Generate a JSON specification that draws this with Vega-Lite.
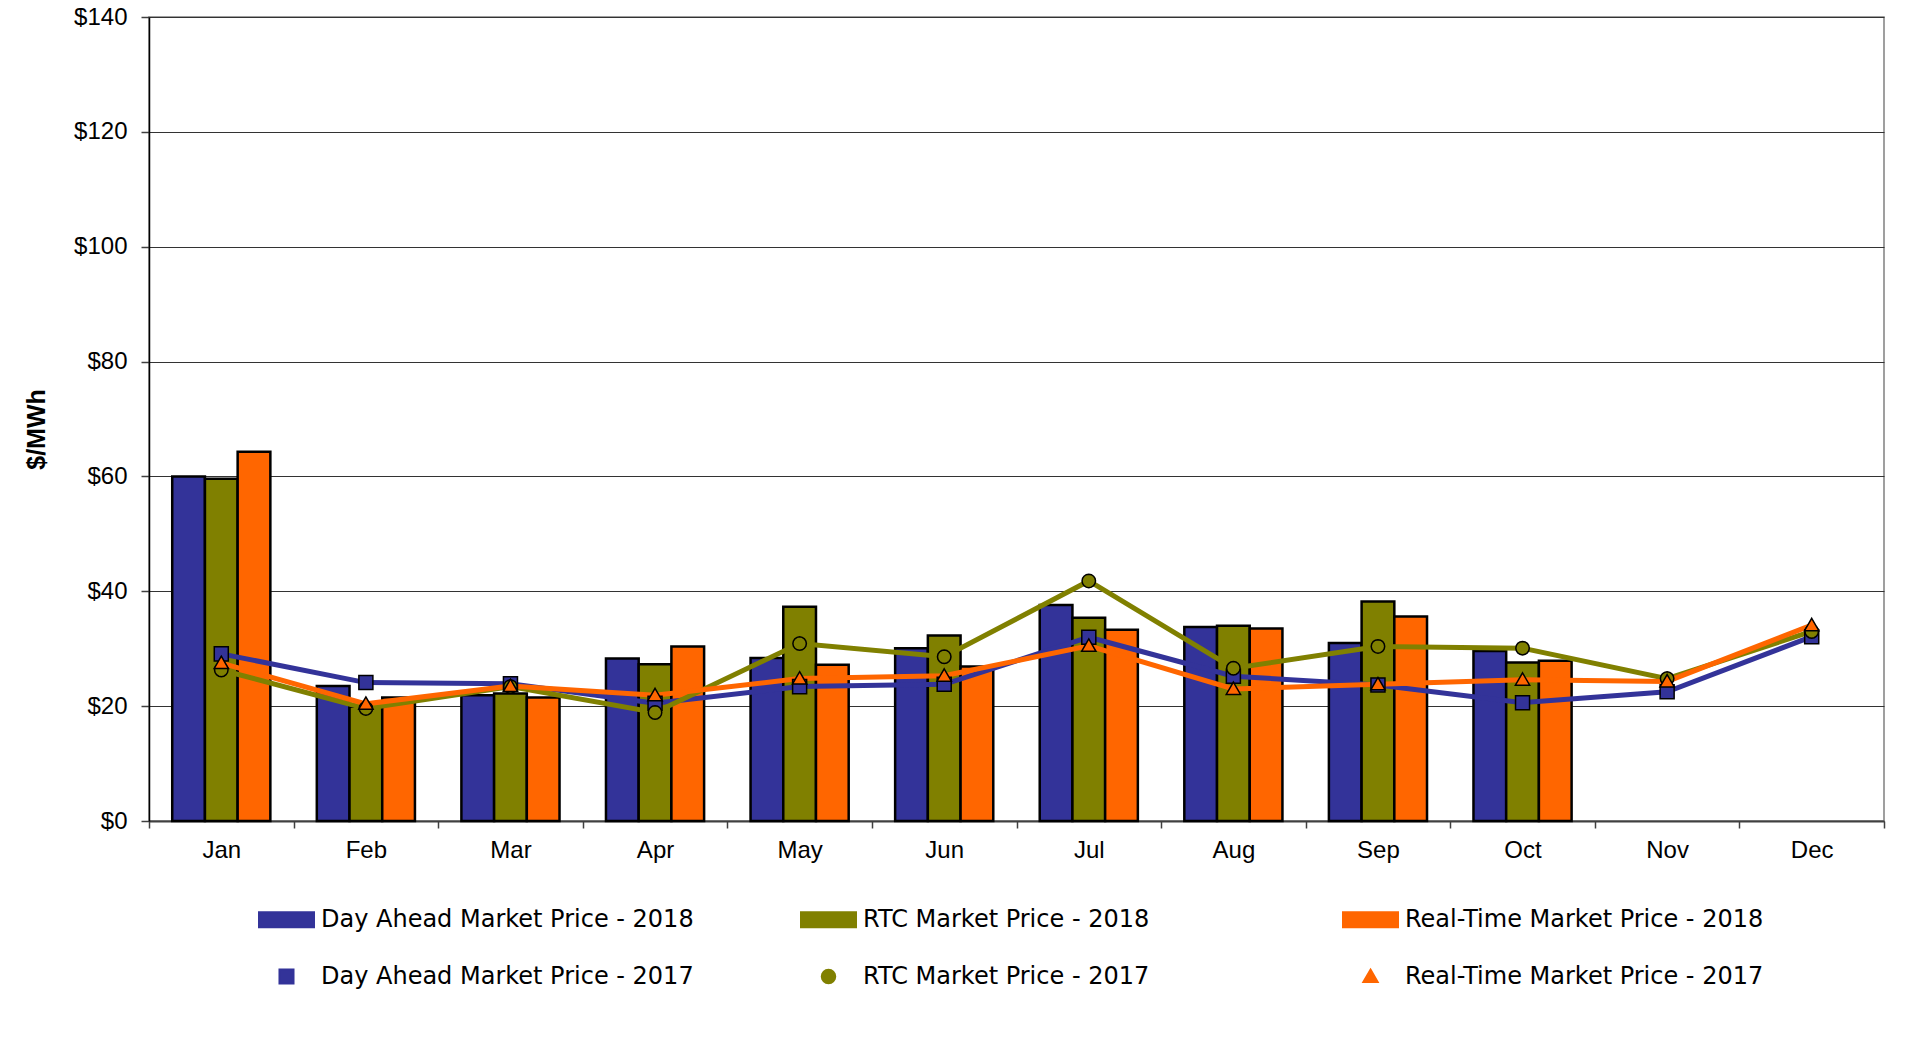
{
  "$schema": "https://vega.github.io/schema/vega-lite/v6.json",
  "autosize": "none",
  "width": 1735,
  "height": 804,
  "padding": {"left": 149, "top": 17, "right": 41, "bottom": 224},
  "background": "white",
  "config": {
    "view": {"stroke": "#808080", "strokeWidth": 1.5},
    "font": "Liberation Sans"
  },
  "datasets": {
    "bars": [
      {"month": "Jan", "series": "Day Ahead Market Price - 2018", "value": 60.0},
      {"month": "Jan", "series": "RTC Market Price - 2018", "value": 59.6},
      {"month": "Jan", "series": "Real-Time Market Price - 2018", "value": 64.3},
      {"month": "Feb", "series": "Day Ahead Market Price - 2018", "value": 23.5},
      {"month": "Feb", "series": "RTC Market Price - 2018", "value": 19.9},
      {"month": "Feb", "series": "Real-Time Market Price - 2018", "value": 21.5},
      {"month": "Mar", "series": "Day Ahead Market Price - 2018", "value": 21.9},
      {"month": "Mar", "series": "RTC Market Price - 2018", "value": 22.2},
      {"month": "Mar", "series": "Real-Time Market Price - 2018", "value": 21.5},
      {"month": "Apr", "series": "Day Ahead Market Price - 2018", "value": 28.3},
      {"month": "Apr", "series": "RTC Market Price - 2018", "value": 27.3},
      {"month": "Apr", "series": "Real-Time Market Price - 2018", "value": 30.4},
      {"month": "May", "series": "Day Ahead Market Price - 2018", "value": 28.4},
      {"month": "May", "series": "RTC Market Price - 2018", "value": 37.3},
      {"month": "May", "series": "Real-Time Market Price - 2018", "value": 27.2},
      {"month": "Jun", "series": "Day Ahead Market Price - 2018", "value": 30.1},
      {"month": "Jun", "series": "RTC Market Price - 2018", "value": 32.3},
      {"month": "Jun", "series": "Real-Time Market Price - 2018", "value": 26.9},
      {"month": "Jul", "series": "Day Ahead Market Price - 2018", "value": 37.6},
      {"month": "Jul", "series": "RTC Market Price - 2018", "value": 35.4},
      {"month": "Jul", "series": "Real-Time Market Price - 2018", "value": 33.3},
      {"month": "Aug", "series": "Day Ahead Market Price - 2018", "value": 33.8},
      {"month": "Aug", "series": "RTC Market Price - 2018", "value": 34.0},
      {"month": "Aug", "series": "Real-Time Market Price - 2018", "value": 33.5},
      {"month": "Sep", "series": "Day Ahead Market Price - 2018", "value": 31.0},
      {"month": "Sep", "series": "RTC Market Price - 2018", "value": 38.2},
      {"month": "Sep", "series": "Real-Time Market Price - 2018", "value": 35.6},
      {"month": "Oct", "series": "Day Ahead Market Price - 2018", "value": 29.6},
      {"month": "Oct", "series": "RTC Market Price - 2018", "value": 27.6},
      {"month": "Oct", "series": "Real-Time Market Price - 2018", "value": 27.9}
    ],
    "lines": [
      {"month": "Jan", "series": "Day Ahead Market Price - 2017", "value": 29.1},
      {"month": "Feb", "series": "Day Ahead Market Price - 2017", "value": 24.1},
      {"month": "Mar", "series": "Day Ahead Market Price - 2017", "value": 23.9},
      {"month": "Apr", "series": "Day Ahead Market Price - 2017", "value": 20.5},
      {"month": "May", "series": "Day Ahead Market Price - 2017", "value": 23.4},
      {"month": "Jun", "series": "Day Ahead Market Price - 2017", "value": 23.8},
      {"month": "Jul", "series": "Day Ahead Market Price - 2017", "value": 32.0},
      {"month": "Aug", "series": "Day Ahead Market Price - 2017", "value": 25.2},
      {"month": "Sep", "series": "Day Ahead Market Price - 2017", "value": 23.7},
      {"month": "Oct", "series": "Day Ahead Market Price - 2017", "value": 20.6},
      {"month": "Nov", "series": "Day Ahead Market Price - 2017", "value": 22.5},
      {"month": "Dec", "series": "Day Ahead Market Price - 2017", "value": 32.1},
      {"month": "Jan", "series": "RTC Market Price - 2017", "value": 26.3},
      {"month": "Feb", "series": "RTC Market Price - 2017", "value": 19.6},
      {"month": "Mar", "series": "RTC Market Price - 2017", "value": 23.4},
      {"month": "Apr", "series": "RTC Market Price - 2017", "value": 18.9},
      {"month": "May", "series": "RTC Market Price - 2017", "value": 30.9},
      {"month": "Jun", "series": "RTC Market Price - 2017", "value": 28.6},
      {"month": "Jul", "series": "RTC Market Price - 2017", "value": 41.8},
      {"month": "Aug", "series": "RTC Market Price - 2017", "value": 26.6},
      {"month": "Sep", "series": "RTC Market Price - 2017", "value": 30.4},
      {"month": "Oct", "series": "RTC Market Price - 2017", "value": 30.1},
      {"month": "Nov", "series": "RTC Market Price - 2017", "value": 24.8},
      {"month": "Dec", "series": "RTC Market Price - 2017", "value": 33.0},
      {"month": "Jan", "series": "Real-Time Market Price - 2017", "value": 27.5},
      {"month": "Feb", "series": "Real-Time Market Price - 2017", "value": 20.4},
      {"month": "Mar", "series": "Real-Time Market Price - 2017", "value": 23.5},
      {"month": "Apr", "series": "Real-Time Market Price - 2017", "value": 21.9},
      {"month": "May", "series": "Real-Time Market Price - 2017", "value": 24.8},
      {"month": "Jun", "series": "Real-Time Market Price - 2017", "value": 25.3},
      {"month": "Jul", "series": "Real-Time Market Price - 2017", "value": 30.5},
      {"month": "Aug", "series": "Real-Time Market Price - 2017", "value": 23.0},
      {"month": "Sep", "series": "Real-Time Market Price - 2017", "value": 23.8},
      {"month": "Oct", "series": "Real-Time Market Price - 2017", "value": 24.6},
      {"month": "Nov", "series": "Real-Time Market Price - 2017", "value": 24.3},
      {"month": "Dec", "series": "Real-Time Market Price - 2017", "value": 34.1}
    ]
  },
  "encoding": {
    "x": {
      "field": "month",
      "type": "ordinal",
      "sort": ["Jan", "Feb", "Mar", "Apr", "May", "Jun", "Jul", "Aug", "Sep", "Oct", "Nov", "Dec"],
      "scale": {"paddingInner": 0, "paddingOuter": 0},
      "axis": {
        "title": null,
        "labelAngle": 0,
        "labelFont": "Liberation Sans",
        "labelFontSize": 24,
        "labelColor": "black",
        "labelPadding": 10,
        "tickBand": "extent",
        "tickSize": 7,
        "tickColor": "#404040",
        "tickWidth": 1.5,
        "domainColor": "#404040",
        "domainWidth": 2,
        "grid": false
      }
    },
    "y": {
      "field": "value",
      "type": "quantitative",
      "scale": {"domain": [0, 140], "nice": false},
      "axis": {
        "title": "$/MWh",
        "titleFont": "Liberation Sans",
        "titleFontSize": 25,
        "titleFontWeight": "bold",
        "titleColor": "black",
        "titlePadding": 24,
        "titleY": 412,
        "values": [0, 20, 40, 60, 80, 100, 120, 140],
        "format": "$.0f",
        "labelFont": "Liberation Sans",
        "labelFontSize": 24,
        "labelColor": "black",
        "labelPadding": 14,
        "tickSize": 8,
        "tickColor": "#404040",
        "tickWidth": 1.5,
        "domainColor": "black",
        "domainWidth": 1.5,
        "grid": true,
        "gridColor": "#333333",
        "gridWidth": 1
      }
    },
    "color": {
      "field": "series",
      "type": "nominal",
      "scale": {
        "domain": ["Day Ahead Market Price - 2018", "RTC Market Price - 2018", "Real-Time Market Price - 2018", "Day Ahead Market Price - 2017", "RTC Market Price - 2017", "Real-Time Market Price - 2017"],
        "range": ["#333399", "#808000", "#FF6600", "#333399", "#808000", "#FF6600"]
      },
      "legend": {
        "title": null,
        "orient": "none",
        "legendX": 109,
        "legendY": 874,
        "direction": "horizontal",
        "columns": 3,
        "gridAlign": "all",
        "columnPadding": 103,
        "rowPadding": 16,
        "padding": 0,
        "symbolSize": 3025,
        "symbolStrokeColor": "black",
        "symbolStrokeWidth": 2,
        "symbolOpacity": 1,
        "labelFont": "DejaVu Sans",
        "labelFontSize": 24,
        "labelColor": "black",
        "labelOffset": 6,
        "labelLimit": 700
      }
    }
  },
  "layer": [
    {
      "data": {"name": "bars"},
      "mark": {"type": "bar", "stroke": "black", "strokeWidth": 2.5},
      "encoding": {
        "xOffset": {
          "field": "series",
          "type": "nominal",
          "sort": ["Day Ahead Market Price - 2018", "RTC Market Price - 2018", "Real-Time Market Price - 2018"],
          "scale": {"paddingInner": 0, "paddingOuter": 0.71}
        }
      }
    },
    {
      "data": {"name": "lines"},
      "mark": {"type": "line", "strokeWidth": 5}
    },
    {
      "data": {"name": "lines"},
      "mark": {"type": "point", "filled": true, "size": 3025, "stroke": "black", "strokeWidth": 1.5, "opacity": 1},
      "encoding": {
        "shape": {
          "field": "series",
          "type": "nominal",
          "scale": {
            "domain": ["Day Ahead Market Price - 2018", "RTC Market Price - 2018", "Real-Time Market Price - 2018", "Day Ahead Market Price - 2017", "RTC Market Price - 2017", "Real-Time Market Price - 2017"],
            "range": [
              "M-1,-0.27L1,-0.27L1,0.27L-1,0.27Z",
              "M-1,-0.27L1,-0.27L1,0.27L-1,0.27Z",
              "M-1,-0.27L1,-0.27L1,0.27L-1,0.27Z",
              "M-0.255,-0.255L0.255,-0.255L0.255,0.255L-0.255,0.255Z",
              "M0.245,0L0.226,0.094L0.173,0.173L0.094,0.226L0,0.245L-0.094,0.226L-0.173,0.173L-0.226,0.094L-0.245,0L-0.226,-0.094L-0.173,-0.173L-0.094,-0.226L0,-0.245L0.094,-0.226L0.173,-0.173L0.226,-0.094Z",
              "M0,-0.25L0.26,0.2L-0.26,0.2Z"
            ]
          }
        }
      }
    }
  ]
}
